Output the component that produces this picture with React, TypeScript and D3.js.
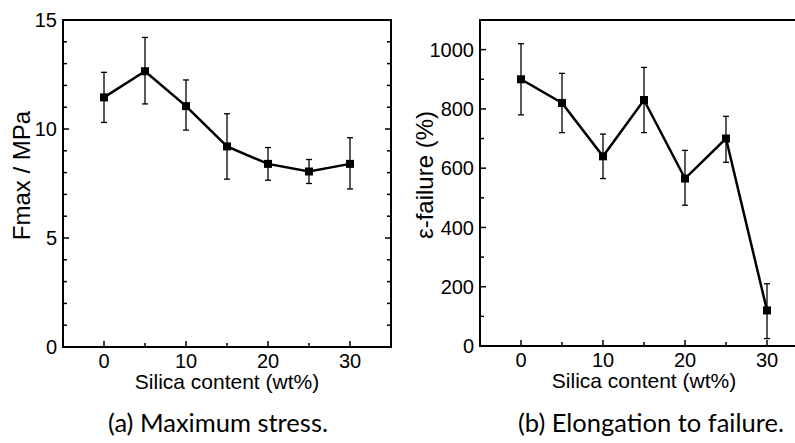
import React from "react";
import * as d3 from "d3";

const silica = [0, 5, 10, 15, 20, 25, 30];
const fmax = [11.45, 12.65, 11.05, 9.2, 8.4, 8.05, 8.4];
const fmaxLow = [10.3, 11.15, 9.95, 7.7, 7.65, 7.5, 7.25];
const fmaxHigh = [12.6, 14.2, 12.25, 10.7, 9.15, 8.6, 9.6];
const elong = [900, 820, 640, 830, 565, 700, 120];
const elongLow = [780, 720, 565, 720, 475, 620, 25];
const elongHigh = [1020, 920, 715, 940, 660, 775, 210];

const xMajor = [0, 10, 20, 30];
const xMinor = [5, 15, 25];
const fTicks = [0, 5, 10, 15];
const eTicks = [0, 200, 400, 600, 800, 1000];

const AX = "'Liberation Sans', Arial, sans-serif";

type PanelProps = {
  x0: number; x1: number; y0: number; y1: number;
  yMax: number; yMajor: number[]; yMinorStep: number;
  vals: number[]; lo: number[]; hi: number[];
  yLabel: string; yLabelX: number; rightBorder: boolean;
};

function Panel(p: PanelProps) {
  const x = d3.scaleLinear().domain([-5, 35]).range([p.x0, p.x1]);
  const y = d3.scaleLinear().domain([0, p.yMax]).range([p.y1, p.y0]);
  const minor = d3.range(0, p.yMax + 0.001, p.yMinorStep).filter((v) => !p.yMajor.includes(v) && v < p.yMax);
  const line = d3.line<number>().x((_, i) => x(silica[i])).y((d) => y(d));
  const ymid = (p.y0 + p.y1) / 2;
  return (
    <g>
      {p.yMajor.map((v) => (
        <g key={"M" + v}>
          <line x1={p.x0} x2={p.x0 + 6} y1={y(v)} y2={y(v)} stroke="#000" strokeWidth={1.5} />
          {p.rightBorder && <line x1={p.x1} x2={p.x1 - 6} y1={y(v)} y2={y(v)} stroke="#000" strokeWidth={1.5} />}
          <text x={p.x0 - 6} y={y(v)} dy="0.36em" textAnchor="end" fontFamily={AX} fontSize={20}>{v}</text>
        </g>
      ))}
      {minor.map((v) => (
        <g key={"m" + v}>
          <line x1={p.x0} x2={p.x0 + 4} y1={y(v)} y2={y(v)} stroke="#000" strokeWidth={1.5} />
          {p.rightBorder && <line x1={p.x1} x2={p.x1 - 4} y1={y(v)} y2={y(v)} stroke="#000" strokeWidth={1.5} />}
        </g>
      ))}
      {xMajor.map((v) => (
        <g key={"xM" + v}>
          <line x1={x(v)} x2={x(v)} y1={p.y1} y2={p.y1 - 6} stroke="#000" strokeWidth={1.5} />
          <text x={x(v)} y={p.y1 + 21} textAnchor="middle" fontFamily={AX} fontSize={20}>{v}</text>
        </g>
      ))}
      {xMinor.map((v) => (
        <line key={"xm" + v} x1={x(v)} x2={x(v)} y1={p.y1} y2={p.y1 - 4} stroke="#000" strokeWidth={1.5} />
      ))}
      <path d={`M${p.x0},${p.y0}H${p.x1}V${p.y1}H${p.x0}Z`} fill="none" stroke="#000" strokeWidth={2} />
      {silica.map((s, i) => (
        <g key={"e" + i} stroke="#000" strokeWidth={1.3}>
          <line x1={x(s)} x2={x(s)} y1={y(p.lo[i])} y2={y(p.hi[i])} />
          <line x1={x(s) - 3} x2={x(s) + 3} y1={y(p.lo[i])} y2={y(p.lo[i])} />
          <line x1={x(s) - 3} x2={x(s) + 3} y1={y(p.hi[i])} y2={y(p.hi[i])} />
        </g>
      ))}
      <path d={line(p.vals) || ""} fill="none" stroke="#000" strokeWidth={2.5} />
      {silica.map((s, i) => (
        <rect key={"r" + i} x={x(s) - 4} y={y(p.vals[i]) - 4} width={8} height={8} fill="#000" />
      ))}
      <text x={x(15)} y={p.y1 + 42} textAnchor="middle" fontFamily={AX} fontSize={21}>
        Silica content (wt%)
      </text>
      <text transform={`translate(${p.yLabelX},${ymid - 8}) rotate(-90)`} textAnchor="middle" fontFamily={AX} fontSize={24}>
        {p.yLabel}
      </text>
    </g>
  );
}

export default function App() {
  return (
    <svg width={795} height={443} style={{ position: "absolute", left: 0, top: 0, background: "#fff" }}>
      <rect x={0} y={0} width={795} height={443} fill="#fff" />
      <Panel x0={63} x1={391} y0={20} y1={347} yMax={15} yMajor={fTicks} yMinorStep={1}
        vals={fmax} lo={fmaxLow} hi={fmaxHigh} yLabel="Fmax / MPa" yLabelX={30} rightBorder={true} />
      <Panel x0={480} x1={808} y0={20} y1={346} yMax={1100} yMajor={eTicks} yMinorStep={100}
        vals={elong} lo={elongLow} hi={elongHigh} yLabel="ε-failure (%)" yLabelX={433} rightBorder={false} />
      <text x={218} y={432} textAnchor="middle" fontFamily="Lato, 'Open Sans', sans-serif" fontSize={25.5}>(a) Maximum stress.</text>
      <text x={651} y={432} textAnchor="middle" fontFamily="Lato, 'Open Sans', sans-serif" fontSize={25.5}>(b) Elongation to failure.</text>
    </svg>
  );
}
